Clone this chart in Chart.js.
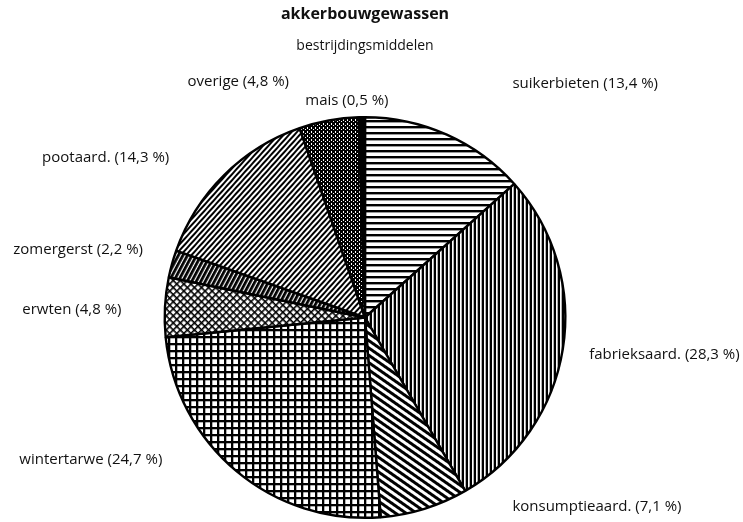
<!DOCTYPE html>
<html>
<head>
<meta charset="utf-8">
<script src="https://cdn.jsdelivr.net/npm/chart.js@4"></script>
<style>
  html, body { margin: 0; padding: 0; background: #fff; }
  #wrap { width: 743px; height: 522px; }
</style>
</head>
<body>
<div id="wrap"><canvas id="pie"></canvas></div>
<script>
// --- Data ---
const crops = ['suikerbieten', 'fabrieksaard.', 'konsumptieaard.', 'wintertarwe', 'erwten',
               'zomergerst', 'pootaard.', 'overige', 'mais'];
const shares = [13.4, 28.3, 7.1, 24.7, 4.8, 2.2, 14.3, 4.8, 0.5];
const shareText = ['13,4', '28,3', '7,1', '24,7', '4,8', '2,2', '14,3', '4,8', '0,5'];

// label spots, relative to pie centre in units of the radius
const labelSpots = [[0.736, -1.169], [1.119, 0.184], [0.736, 0.945], [-1.726, 0.711], [-1.711, -0.040],
                    [-1.756, -0.338], [-1.612, -0.796], [-0.886, -1.179], [-0.298, -1.084]];

const FONT = '"Open Sans", "DejaVu Sans", sans-serif';

// --- Hatch patterns ---
function tile(w, h, draw) {
    const c = document.createElement('canvas');
    c.width = w; c.height = h;
    const g = c.getContext('2d');
    g.fillStyle = '#fff'; g.fillRect(0, 0, w, h);
    g.fillStyle = '#000';
    draw(g, w, h);
    return c;
}
function stripes(gap, thick, angle) {
    const ctx = document.createElement('canvas').getContext('2d');
    const p = ctx.createPattern(tile(8, gap, (g, w) => g.fillRect(0, 0, w, thick)), 'repeat');
    if (angle) p.setTransform(new DOMMatrix().rotateSelf(angle));
    return p;
}
function grid(gap, thick, angle) {
    const ctx = document.createElement('canvas').getContext('2d');
    const p = ctx.createPattern(tile(gap, gap, (g, w, h) => { g.fillRect(0, 0, w, thick); g.fillRect(0, 0, thick, h); }), 'repeat');
    if (angle) p.setTransform(new DOMMatrix().rotateSelf(angle));
    return p;
}
function stipple() {
    const ctx = document.createElement('canvas').getContext('2d');
    return ctx.createPattern(tile(4, 4, (g) => {
        g.fillRect(0, 0, 4, 4); g.fillStyle = '#fff';
        g.fillRect(1, 1, 1, 1); g.fillRect(3, 3, 1, 1); g.fillRect(3, 0, 1, 1);
    }), 'repeat');
}

const fills = [
    stripes(6, 2.4, 0),     // suikerbieten: horizontal
    stripes(4.3, 2.3, 90),  // fabrieksaard: vertical
    stripes(6, 3, 35),      // konsumptieaard: diagonal down
    grid(7, 2.3, 0),        // wintertarwe: square grid
    grid(5, 1.6, 45),       // erwten: diagonal crosshatch
    stripes(4, 2.8, -62),   // zomergerst: dense steep
    stripes(4.4, 2, -48),   // pootaard: diagonal up
    stipple(),              // overige
    '#000'                  // mais
];

// --- Outside labels ---
const sliceLabels = {
    id: 'sliceLabels',
    afterDraw(chart) {
        const arc = chart.getDatasetMeta(0).data[0];
        if (!arc) return;
        const { x, y, outerRadius: r } = arc;
        const ctx = chart.ctx;
        ctx.save();
        ctx.font = '15px ' + FONT;
        ctx.fillStyle = '#111';
        ctx.textAlign = 'left';
        ctx.textBaseline = 'middle';
        crops.forEach((name, i) => {
            const [fx, fy] = labelSpots[i];
            ctx.fillText(`${name} (${shareText[i]} %)`, x + fx * r, y + fy * r);
        });
        ctx.restore();
    }
};

new Chart(document.getElementById('pie'), {
    type: 'pie',
    data: {
        labels: crops,
        datasets: [{
            data: shares,
            backgroundColor: fills,
            borderColor: '#000',
            borderWidth: 2.4
        }]
    },
    options: {
        responsive: true,
        maintainAspectRatio: false,
        animation: false,
        layout: { padding: { top: 0, bottom: 3, left: 0, right: 13 } },
        plugins: {
            legend: { display: false },
            tooltip: { enabled: false },
            title: {
                display: true, text: 'akkerbouwgewassen', color: '#111',
                font: { family: FONT, size: 16, weight: 'bold' },
                padding: { top: 5, bottom: 13 }
            },
            subtitle: {
                display: true, text: 'bestrijdingsmiddelen', color: '#111',
                font: { family: FONT, size: 14 },
                padding: { top: 0, bottom: 62 }
            }
        }
    },
    plugins: [sliceLabels]
});
</script>
</body>
</html>
